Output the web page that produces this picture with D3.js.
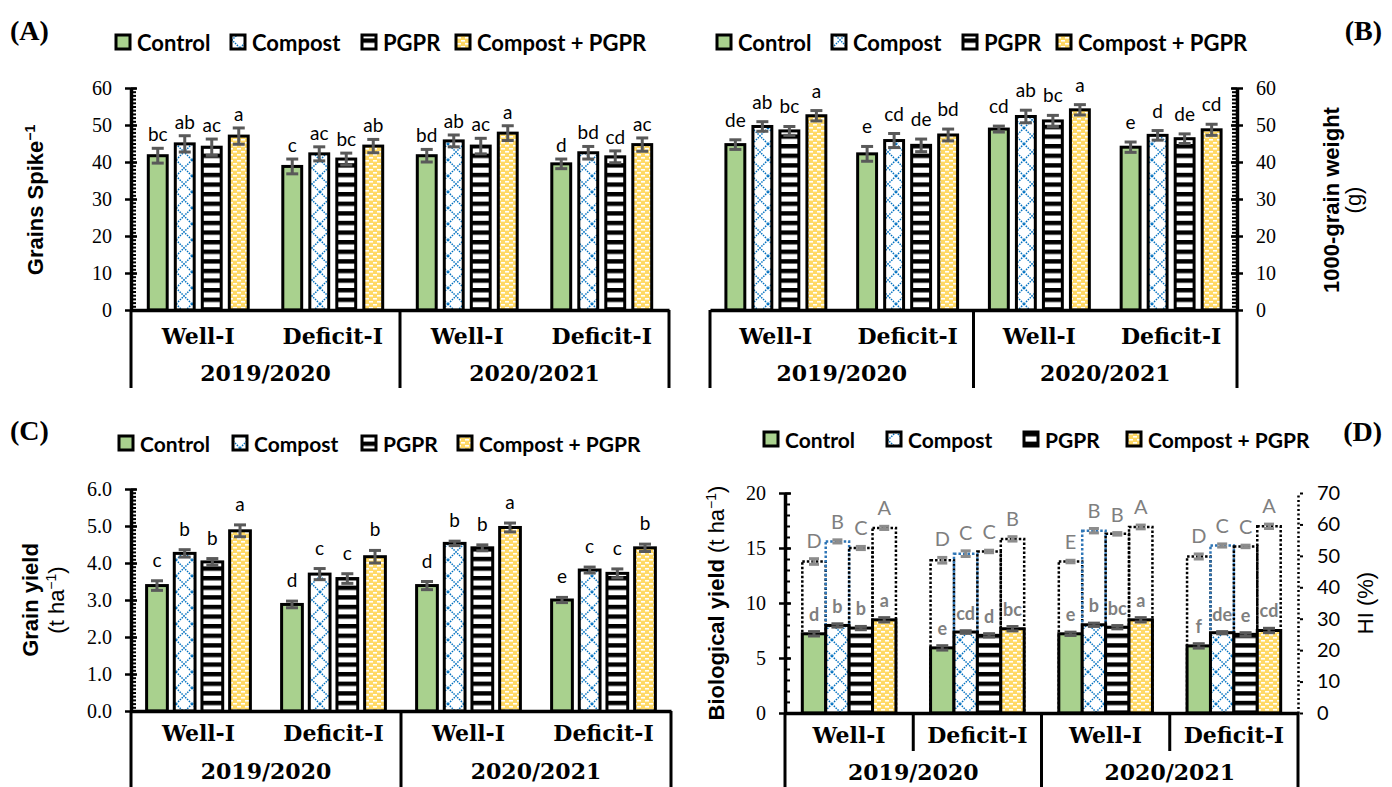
<!DOCTYPE html>
<html>
<head>
<meta charset="utf-8">
<script src="https://cdn.jsdelivr.net/npm/d3@7"></script>
<style>
  body { margin: 0; background: #fff; }
  svg { display: block; }
</style>
</head>
<body>
<div id="chart"></div>
<script>
// categories
var treatments = ["Control", "Compost", "PGPR", "Compost + PGPR"];
var clusters = ["Well-I", "Deficit-I", "Well-I", "Deficit-I"];
var seasons = ["2019/2020", "2020/2021"];

// (A) grains per spike - one row per cluster, one value per treatment
var spikeMean = [[41.7, 44.9, 44.0, 47.0], [38.8, 42.2, 40.8, 44.3], [41.7, 45.7, 44.3, 47.8], [39.5, 42.5, 41.4, 44.7]];
var spikeErr = [[2.0, 2.2, 2.2, 2.2], [2.0, 1.9, 1.6, 1.8], [1.7, 1.6, 2.1, 2.0], [1.3, 1.7, 1.6, 1.8]];
var spikeLetters = [["bc", "ab", "ac", "a"], ["c", "ac", "bc", "ab"], ["bd", "ab", "ac", "a"], ["d", "bd", "cd", "ac"]];
var spikeTicks = [0, 10, 20, 30, 40, 50, 60];

// (B) 1000-grain weight
var tgwMean = [[44.7, 49.6, 48.4, 52.5], [42.2, 45.8, 44.5, 47.3], [48.9, 52.3, 51.1, 54.1], [44.0, 47.2, 46.3, 48.7]];
var tgwErr = [[1.3, 1.3, 1.2, 1.4], [2.0, 1.9, 1.7, 1.6], [0.8, 1.7, 1.5, 1.4], [1.4, 1.3, 1.3, 1.5]];
var tgwLetters = [["de", "ab", "bc", "a"], ["e", "cd", "de", "bd"], ["cd", "ab", "bc", "a"], ["e", "d", "de", "cd"]];
var tgwTicks = [0, 10, 20, 30, 40, 50, 60];

// (C) grain yield
var yieldMean = [[3.39, 4.26, 4.03, 4.87], [2.88, 3.70, 3.58, 4.17], [3.39, 4.53, 4.41, 4.96], [3.00, 3.81, 3.72, 4.41]];
var yieldErr = [[0.13, 0.10, 0.09, 0.16], [0.09, 0.15, 0.13, 0.17], [0.11, 0.06, 0.08, 0.12], [0.07, 0.08, 0.12, 0.10]];
var yieldLetters = [["c", "b", "b", "a"], ["d", "c", "c", "b"], ["d", "b", "b", "a"], ["e", "c", "c", "b"]];
var yieldTicks = [0, 1, 2, 3, 4, 5, 6];

// (D) biological yield + harvest index
var bioMean = [[7.2, 7.96, 7.72, 8.47], [5.92, 7.36, 7.06, 7.66], [7.2, 8.02, 7.8, 8.47], [6.1, 7.3, 7.15, 7.5]];
var bioErr = [[0.2, 0.15, 0.15, 0.2], [0.2, 0.12, 0.15, 0.2], [0.15, 0.15, 0.15, 0.2], [0.2, 0.1, 0.15, 0.2]];
var bioLetters = [["d", "b", "b", "a"], ["e", "cd", "d", "bc"], ["e", "b", "bc", "a"], ["f", "de", "e", "cd"]];
var hiMean = [[48.2, 54.6, 52.5, 58.9], [48.6, 50.7, 51.4, 55.4], [48.2, 58.0, 57.0, 59.2], [49.8, 53.3, 53.0, 59.4]];
var hiErr = [[0.9, 0.5, 0.5, 0.5], [0.9, 0.9, 0.4, 0.7], [0.4, 0.7, 0.4, 0.6], [0.8, 0.5, 0.4, 0.7]];
var hiLetters = [["D", "B", "C", "A"], ["D", "C", "C", "B"], ["E", "B", "B", "A"], ["D", "C", "C", "A"]];
var bioTicks = [0, 5, 10, 15, 20];
var hiTicks = [0, 10, 20, 30, 40, 50, 60, 70];

var SANS = "Lato, 'Open Sans', sans-serif";
var TITLE = "'Liberation Sans', Arial, sans-serif";
var SERIF = "'Liberation Serif', 'Times New Roman', serif";
var CAT = "'DejaVu Serif', serif";

var svg = d3.select("#chart").append("svg")
  .attr("width", 1392)
  .attr("height", 787);

// fill patterns
var defs = svg.append("defs");
var pc = defs.append("pattern").attr("id", "pat-compost")
  .attr("patternUnits", "userSpaceOnUse").attr("width", 16).attr("height", 16);
pc.append("rect").attr("width", 16).attr("height", 16).attr("fill", "#fff");
pc.append("path").attr("d", "M0,0L16,16M16,0L0,16")
  .attr("stroke", "#0070c0").attr("stroke-width", 1.5).attr("stroke-dasharray", "1.5,1.1");

var pp = defs.append("pattern").attr("id", "pat-pgpr")
  .attr("patternUnits", "userSpaceOnUse").attr("width", 10).attr("height", 9.6);
pp.append("rect").attr("width", 10).attr("height", 9.6).attr("fill", "#fff");
pp.append("rect").attr("width", 10).attr("height", 4.4).attr("fill", "#000");

var py = defs.append("pattern").attr("id", "pat-cp")
  .attr("patternUnits", "userSpaceOnUse").attr("width", 8).attr("height", 6);
py.append("rect").attr("width", 8).attr("height", 6).attr("fill", "#ffd966");
py.append("rect").attr("x", 1).attr("y", 1).attr("width", 4).attr("height", 1.6).attr("fill", "#fff");
py.append("rect").attr("x", 5).attr("y", 4).attr("width", 4).attr("height", 1.6).attr("fill", "#fff");
py.append("rect").attr("x", -3).attr("y", 4).attr("width", 4).attr("height", 1.6).attr("fill", "#fff");

var fills = ["#a9d18e", "url(#pat-compost)", "url(#pat-pgpr)", "url(#pat-cp)"];
var hiStroke = ["#000", "#2e75b6", "#000", "#000"];

function flat(mean, err, letters) {
  var out = [];
  mean.forEach(function(row, c) {
    row.forEach(function(v, t) {
      out.push({ c: c, t: t, v: v, e: err[c][t], l: letters[c][t] });
    });
  });
  return out;
}

// y axis with Excel style crossing major ticks + small minor ticks
function yAxis(g, y, x, side, ticks, minor, fmt, font, dotted) {
  var ax = (side === "left" ? d3.axisLeft(y) : d3.axisRight(y))
    .tickValues(ticks).tickSize(6).tickSizeOuter(0).tickPadding(13).tickFormat(fmt);
  var a = g.append("g").attr("transform", "translate(" + x + ",0)").call(ax);
  a.select(".domain").attr("stroke-width", dotted ? 2.5 : 3.5)
    .attr("stroke-dasharray", dotted ? "2,2.5" : null);
  if (!dotted) {
    a.selectAll(".tick line").attr("x1", side === "left" ? 6 : -6).attr("stroke-width", 2.5);
  } else {
    a.selectAll(".tick line").attr("x1", 2).attr("x2", 5).attr("stroke-width", 2);
  }
  a.selectAll(".tick text").style("font-family", font).style("font-size", "20px").attr("fill", "#000");
  if (minor) {
    var mn = (side === "left" ? d3.axisRight(y) : d3.axisLeft(y)).tickValues(minor).tickSize(5).tickFormat("");
    g.append("g").attr("transform", "translate(" + x + ",0)").call(mn)
      .call(function(s) { s.select(".domain").remove(); })
      .selectAll("line").attr("stroke-width", 2);
  }
}

function legend(ly, xs, size) {
  treatments.forEach(function(name, i) {
    svg.append("rect")
      .attr("x", xs[i]).attr("y", ly - 7)
      .attr("width", 14).attr("height", 14)
      .attr("fill", fills[i]).attr("stroke", "#000").attr("stroke-width", 3);
    svg.append("text")
      .attr("x", xs[i] + 21).attr("y", ly)
      .attr("dominant-baseline", "central")
      .style("font-family", SANS).style("font-weight", "bold").style("font-size", size + "px")
      .text(name);
  });
}

function rotTitle(x, y, parts) {
  var t = svg.append("text")
    .attr("transform", "translate(" + x + "," + y + ") rotate(-90)")
    .attr("text-anchor", "middle")
    .style("font-family", TITLE).style("font-size", "22px");
  parts.forEach(function(p) {
    var s = t.append("tspan").text(p.t).style("font-weight", p.b ? "bold" : "normal");
    if (p.sup) s.attr("dy", -8).style("font-size", "14px");
    if (p.back) s.attr("dy", 8);
  });
}

function errorBars(g, data, x0, x1, y, color, cap, w) {
  var eb = g.selectAll(null).data(data).enter().append("g")
    .attr("stroke", color).attr("stroke-width", w);
  function cx(d) { return x0(d.c) + x1(d.t) + x1.bandwidth() / 2; }
  eb.append("line")
    .attr("x1", cx).attr("x2", cx)
    .attr("y1", function(d) { return y(d.v - d.e); })
    .attr("y2", function(d) { return y(d.v + d.e); });
  eb.append("line")
    .attr("x1", function(d) { return cx(d) - cap / 2; }).attr("x2", function(d) { return cx(d) + cap / 2; })
    .attr("y1", function(d) { return y(d.v + d.e); }).attr("y2", function(d) { return y(d.v + d.e); });
  eb.append("line")
    .attr("x1", function(d) { return cx(d) - cap / 2; }).attr("x2", function(d) { return cx(d) + cap / 2; })
    .attr("y1", function(d) { return y(d.v - d.e); }).attr("y2", function(d) { return y(d.v - d.e); });
}

function panel(cfg) {
  var g = svg.append("g");
  var x0 = d3.scaleBand().domain(d3.range(clusters.length))
    .range([cfg.left, cfg.right]).paddingInner(cfg.padIn).paddingOuter(cfg.padIn / 2);
  var x1 = d3.scaleBand().domain(d3.range(treatments.length))
    .range([0, x0.bandwidth()]).paddingInner(cfg.barPad).paddingOuter(cfg.barPad / 2);
  var xs = d3.scaleBand().domain(seasons).range([cfg.left, cfg.right]);
  var y = d3.scaleLinear().domain([cfg.ticks[0], cfg.ticks[cfg.ticks.length - 1]]).range([cfg.base, cfg.top]);

  // secondary series (HI), drawn as dotted outline bars behind
  if (cfg.hi) {
    var y2 = d3.scaleLinear().domain([hiTicks[0], hiTicks[hiTicks.length - 1]]).range([cfg.base, cfg.top]);
    var hd = flat(hiMean, hiErr, hiLetters);
    g.selectAll(".hi").data(hd).enter().append("rect")
      .attr("x", function(d) { return x0(d.c) + x1(d.t); })
      .attr("y", function(d) { return y2(d.v); })
      .attr("width", x1.bandwidth())
      .attr("height", function(d) { return cfg.base - y2(d.v); })
      .attr("fill", "none")
      .attr("stroke", function(d) { return hiStroke[d.t]; })
      .attr("stroke-width", 2.5)
      .attr("stroke-dasharray", "2.5,2");
    errorBars(g, hd, x0, x1, y2, "#8c8c8c", 10, 3);
    g.selectAll(".hil").data(hd).enter().append("text")
      .attr("x", function(d) { return x0(d.c) + x1(d.t) + x1.bandwidth() / 2; })
      .attr("y", function(d) { return y2(d.v + d.e) - 11; })
      .attr("text-anchor", "middle")
      .style("font-family", SANS).style("font-size", "20px").attr("fill", "#7f7f7f")
      .text(function(d) { return d.l; });
    yAxis(g, y2, cfg.right, "right", hiTicks, null, d3.format("d"), SANS, true);
  }

  var data = flat(cfg.mean, cfg.err, cfg.letters);
  g.selectAll(".bar").data(data).enter().append("rect")
    .attr("x", function(d) { return x0(d.c) + x1(d.t); })
    .attr("y", function(d) { return y(d.v); })
    .attr("width", x1.bandwidth())
    .attr("height", function(d) { return cfg.base - y(d.v); })
    .attr("fill", function(d) { return fills[d.t]; })
    .attr("stroke", "#000")
    .attr("stroke-width", 3);

  errorBars(g, data, x0, x1, y, "#595959", 12, 3);

  g.selectAll(".lab").data(data).enter().append("text")
    .attr("x", function(d) { return x0(d.c) + x1(d.t) + x1.bandwidth() / 2; })
    .attr("y", function(d) { return y(d.v + d.e) - cfg.letterGap; })
    .attr("text-anchor", "middle")
    .style("font-family", SANS).style("font-size", cfg.letterSize + "px")
    .style("font-weight", cfg.letterBold ? "bold" : "normal")
    .attr("fill", cfg.letterColor)
    .text(function(d) { return d.l; });

  // value axis
  yAxis(g, y, cfg.axisSide === "left" ? cfg.left : cfg.right, cfg.axisSide, cfg.ticks, cfg.minor, cfg.fmt, SERIF, false);

  // category axis (two levels)
  var xa = d3.axisBottom(x0).tickFormat(function(i) { return clusters[i]; })
    .tickSize(0).tickSizeOuter(0).tickPadding(cfg.catPad);
  var xg = g.append("g").attr("transform", "translate(0," + cfg.base + ")").call(xa);
  xg.select(".domain").attr("stroke-width", 3.5);
  xg.selectAll(".tick text").style("font-family", CAT).style("font-weight", "bold")
    .style("font-size", "22px").attr("fill", "#000");

  var sa = d3.axisBottom(xs).tickSize(0).tickSizeOuter(0).tickPadding(cfg.seasonPad);
  var sg = g.append("g").attr("transform", "translate(0," + cfg.base + ")").call(sa);
  sg.select(".domain").remove();
  sg.selectAll(".tick text").style("font-family", CAT).style("font-weight", "bold")
    .style("font-size", "22px").attr("fill", "#000");

  var edges = [cfg.left, xs(seasons[1]), cfg.right];
  g.selectAll(".sep").data(edges).enter().append("line")
    .attr("x1", function(d) { return d; }).attr("x2", function(d) { return d; })
    .attr("y1", cfg.base).attr("y2", cfg.bottom)
    .attr("stroke", "#000").attr("stroke-width", 3);
  if (cfg.innerSep) {
    var step = x0.step();
    var inner = [cfg.left + step, cfg.left + 3 * step];
    g.selectAll(".isep").data(inner).enter().append("line")
      .attr("x1", function(d) { return d; }).attr("x2", function(d) { return d; })
      .attr("y1", cfg.base).attr("y2", cfg.innerBottom)
      .attr("stroke", "#000").attr("stroke-width", 3);
  }
}

// (A)
panel({
  left: 131, right: 669, base: 310, top: 88, padIn: 0.197, barPad: 0.3,
  mean: spikeMean, err: spikeErr, letters: spikeLetters,
  ticks: spikeTicks, minor: d3.range(0, 61, 1), fmt: d3.format("d"), axisSide: "left",
  letterGap: 7, letterSize: 19, letterColor: "#000",
  catPad: 18, seasonPad: 55, bottom: 388
});
// (B)
panel({
  left: 710, right: 1237, base: 310, top: 88, padIn: 0.18, barPad: 0.3,
  mean: tgwMean, err: tgwErr, letters: tgwLetters,
  ticks: tgwTicks, minor: d3.range(0, 61, 1), fmt: d3.format("d"), axisSide: "right",
  letterGap: 13, letterSize: 19, letterColor: "#000",
  catPad: 18, seasonPad: 55, bottom: 388
});
// (C)
panel({
  left: 131, right: 671, base: 711, top: 489, padIn: 0.18, barPad: 0.25,
  mean: yieldMean, err: yieldErr, letters: yieldLetters,
  ticks: yieldTicks, minor: d3.range(0, 6.01, 0.1), fmt: d3.format(".1f"), axisSide: "left",
  letterGap: 14, letterSize: 19, letterColor: "#000",
  catPad: 14, seasonPad: 52, bottom: 787
});
// (D)
panel({
  left: 785, right: 1298, base: 713, top: 493, padIn: 0.27, barPad: 0,
  mean: bioMean, err: bioErr, letters: bioLetters,
  ticks: bioTicks, minor: d3.range(0, 20.01, 1), fmt: d3.format("d"), axisSide: "left",
  letterGap: 11, letterSize: 18, letterColor: "#7f7f7f", letterBold: true,
  catPad: 14, seasonPad: 51, bottom: 787, innerSep: true, innerBottom: 751, hi: true
});

// legends
legend(42, [116, 231, 362, 456], 22);
legend(42, [717, 832, 963, 1057], 22);
legend(443, [119, 233, 362, 458], 21);
legend(439, [764, 887, 1024, 1127], 21);

// panel tags
[["(A)", 10, 40, "start"], ["(B)", 1382, 40, "end"], ["(C)", 10, 440, "start"], ["(D)", 1382, 441, "end"]]
  .forEach(function(p) {
    svg.append("text").attr("x", p[1]).attr("y", p[2]).attr("text-anchor", p[3])
      .style("font-family", SERIF).style("font-weight", "bold").style("font-size", "28px")
      .text(p[0]);
  });

// axis titles
rotTitle(43, 200, [{ t: "Grains Spike", b: true }, { t: "\u22121", b: true, sup: true }]);
rotTitle(1339, 200, [{ t: "1000-grain weight", b: true }]);
rotTitle(1361, 200, [{ t: "(g)" }]);
rotTitle(38, 600, [{ t: "Grain yield", b: true }]);
rotTitle(64, 600, [{ t: "(t ha" }, { t: "\u22121", sup: true }, { t: ")", back: true }]);
rotTitle(724, 603, [{ t: "Biological yield", b: true }, { t: " (t ha" }, { t: "\u22121", sup: true }, { t: ")", back: true }]);
rotTitle(1373, 603, [{ t: "HI (%)" }]);
</script>
</body>
</html>
